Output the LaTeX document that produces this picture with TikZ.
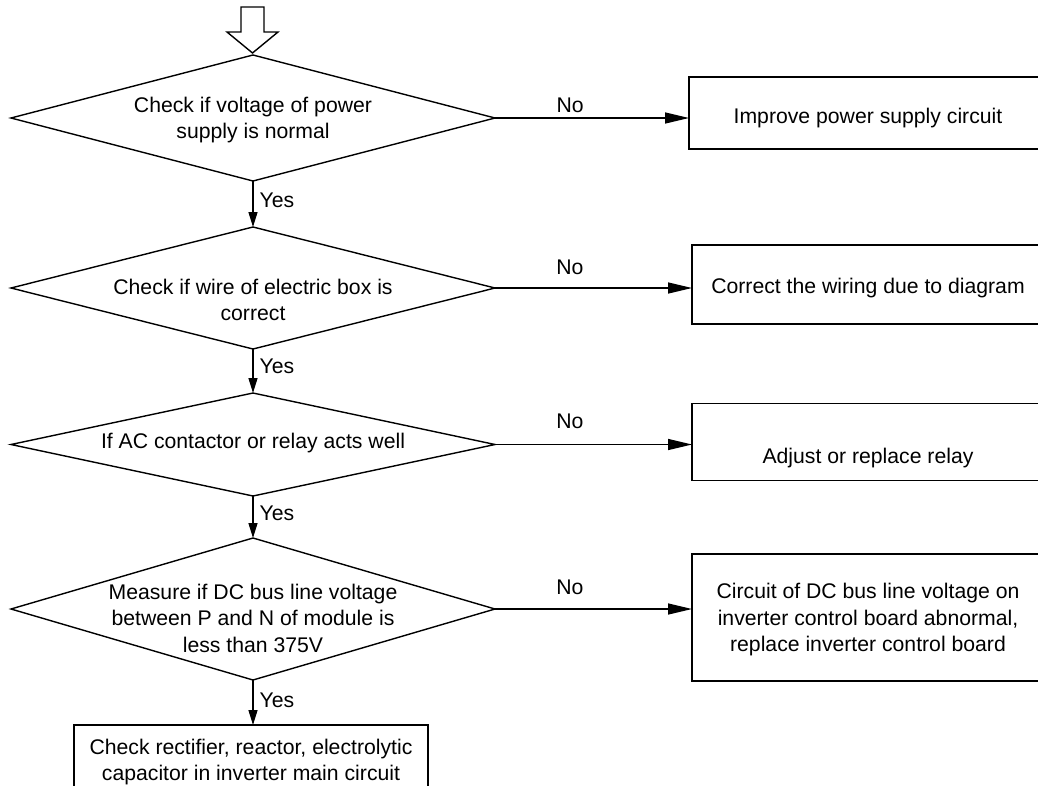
\documentclass[tikz,border=0pt]{standalone}
\usepackage{fontspec}
\setmainfont{Liberation Sans}
\usetikzlibrary{shapes.geometric,arrows.meta}
\begin{document}
\begin{tikzpicture}[x=1pt,y=-1pt,
  dia/.style={shape=diamond, draw=black, line width=1.4pt, inner sep=0pt, outer sep=0pt, minimum width=484pt},
  box/.style={shape=rectangle, draw=black, line width=1.4pt, inner sep=0pt, outer sep=0pt},
  txt/.style={font=\fontsize{21.2pt}{26.5pt}\selectfont, align=center, inner sep=0pt},
  lbl/.style={font=\fontsize{21.2pt}{26.5pt}\selectfont, inner sep=0pt},
  harrow/.style={line width=1.4pt, -{Triangle[length=24pt,width=11pt]}},
  varrow/.style={line width=1.4pt, -{Triangle[length=15pt,width=9pt]}},
  startarrow/.style={draw=black, line width=1.4pt, line join=miter}
]
\useasboundingbox (0,0) rectangle (1038,785);
\clip (0,0) rectangle (1038,785);

% start arrow
\draw[startarrow] (241,7) -- (264,7) -- (264,32) -- (278,32) -- (252.5,53) -- (227,32) -- (241,32) -- cycle;

% decisions
\node[dia, minimum height=126pt] (d1) at (253,118) {};
\node[dia, minimum height=122pt] (d2) at (253,288) {};
\node[dia, minimum height=103pt] (d3) at (253,444.5) {};
\node[dia, minimum height=142pt] (d4) at (253,609) {};

\node[txt] (t1) at (253,120) {Check if voltage of power\\supply is normal};
\node[txt] (t2) at (253,300) {Check if wire of electric box is\\correct};
\node[txt] (t3) at (253,443) {If AC contactor or relay acts well};
\node[txt] (t4) at (253,618) {Measure if DC bus line voltage\\between P and N of module is\\less than 375V};

% result boxes
\node[box, minimum width=355pt, minimum height=72pt] (b1) at (866.5,113) {};
\node[box, minimum width=352pt, minimum height=79pt] (b2) at (868,284.5) {};
\node[box, minimum width=352pt, minimum height=77.5pt] (b3) at (868,442) {};
\node[box, minimum width=352pt, minimum height=127pt] (b4) at (868,617.5) {};
\node[box, minimum width=354pt, minimum height=90pt] (b5) at (251,770) {};

\node[txt] (r1) at (868,118) {Improve power supply circuit};
\node[txt] (r2) at (868,288) {Correct the wiring due to diagram};
\node[txt] (r3) at (868,458) {Adjust or replace relay};
\node[txt] (r4) at (868,620) {Circuit of DC bus line voltage on\\inverter control board abnormal,\\replace inverter control board};
\node[txt] (r5) at (251,762) {Check rectifier, reactor, electrolytic\\capacitor in inverter main circuit};

% Yes connectors
\draw[varrow] (d1.south) -- node[lbl, anchor=west, pos=0.42, xshift=6pt] {Yes} (d2.north);
\draw[varrow] (d2.south) -- node[lbl, anchor=west, pos=0.40, xshift=6pt] {Yes} (d3.north);
\draw[varrow] (d3.south) -- node[lbl, anchor=west, pos=0.42, xshift=6pt] {Yes} (d4.north);
\draw[varrow] (d4.south) -- node[lbl, anchor=west, pos=0.45, xshift=6pt] {Yes} (d4.south |- b5.north);

% No connectors
\draw[harrow] (d1.east) -- node[lbl, anchor=south, pos=0.387, yshift=5pt] {No} (d1.east -| b1.west);
\draw[harrow] (d2.east) -- node[lbl, anchor=south, pos=0.38, yshift=13pt] {No} (d2.east -| b2.west);
\draw[harrow] (d3.east) -- node[lbl, anchor=south, pos=0.38, yshift=15pt] {No} (d3.east -| b3.west);
\draw[harrow] (d4.east) -- node[lbl, anchor=south, pos=0.38, yshift=14pt] {No} (d4.east -| b4.west);
\end{tikzpicture}
\end{document}
